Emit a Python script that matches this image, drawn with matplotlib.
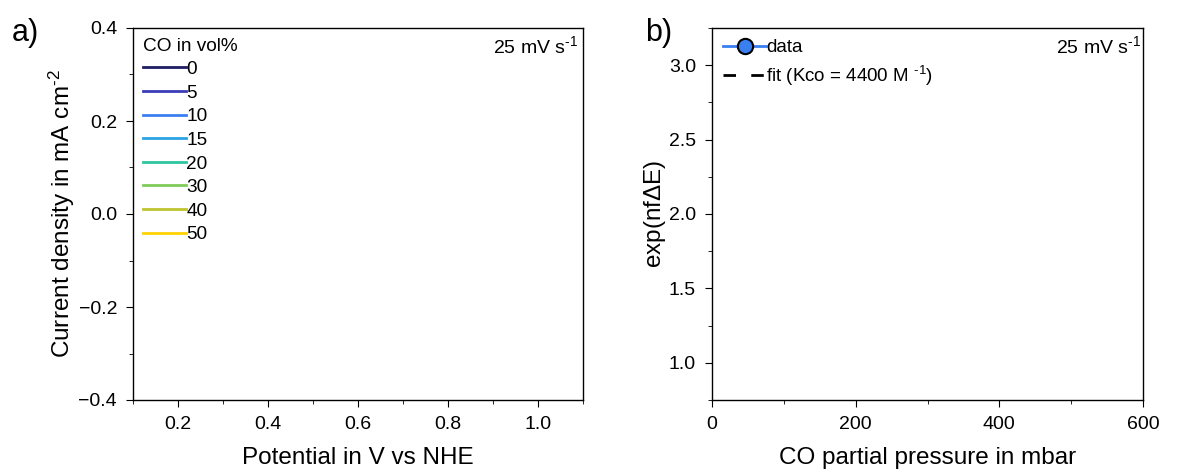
import matplotlib
matplotlib.use("Agg")
from matplotlib import pyplot as plt
from matplotlib.ticker import MultipleLocator
import numpy as np

plt.rcParams['font.family'] = ['Liberation Sans', 'DejaVu Sans']
plt.rcParams['mathtext.fontset'] = 'custom'
plt.rcParams['mathtext.rm'] = 'Liberation Sans'
plt.rcParams['mathtext.it'] = 'Liberation Sans:italic'
plt.rcParams['axes.linewidth'] = 1.0
plt.rcParams['xtick.major.size'] = 5
plt.rcParams['ytick.major.size'] = 5
plt.rcParams['xtick.minor.size'] = 3
plt.rcParams['ytick.minor.size'] = 3
plt.rcParams['xtick.major.pad'] = 6.5
plt.rcParams['ytick.major.pad'] = 6.5
plt.rcParams['xtick.minor.visible'] = True
plt.rcParams['ytick.minor.visible'] = True

# CVs at different CO contents (no traces recorded here, legend only)
co_vol = [0, 5, 10, 15, 20, 30, 40, 50]
co_colors = ['#1f1d66', '#3b3cb8', '#3a80f2', '#2aa2e2', '#2ec6a0',
             '#80cb58', '#bdc42e', '#ffd200']
potential = np.array([])
current = np.array([])

# CO partial pressure vs exp(nfdE)
p_co = np.array([])
exp_nfde = np.array([])
p_fit = np.array([])
exp_fit = np.array([])

W, H = 1181, 470
fig = plt.figure(figsize=(W/100, H/100), dpi=100)

ax1 = fig.add_axes([133/W, 70/H, 450/W, 372/H])
for v, c in zip(co_vol, co_colors):
    ax1.plot(potential, current, color=c, lw=2, label=str(v))
ax1.set_xlim(0.1, 1.1)
ax1.set_ylim(-0.4, 0.4)
ax1.xaxis.set_major_locator(MultipleLocator(0.2))
ax1.xaxis.set_minor_locator(MultipleLocator(0.1))
ax1.yaxis.set_major_locator(MultipleLocator(0.2))
ax1.yaxis.set_minor_locator(MultipleLocator(0.1))
ax1.tick_params(labelsize=14)
ax1.set_xlabel('Potential in V vs NHE', fontsize=17.5, labelpad=10)
ax1.set_ylabel('Current density in mA cm$^{\\text{-2}}$', fontsize=17.5,
               labelpad=1)
leg1 = ax1.legend(title='CO in vol%', loc='upper left', frameon=False,
                  fontsize=13.7, title_fontsize=13.7, handlelength=2.3,
                  handletextpad=0.0, labelspacing=0.33, borderaxespad=0.3,
                  borderpad=0.2)
leg1._legend_box.align = 'left'
ax1.text(0.99, 0.95, '25 mV s$^{\\text{-1}}$', transform=ax1.transAxes,
         ha='right', va='center', fontsize=14)
fig.text(12/W, 1 - 33/H, 'a)', fontsize=22, va='center', ha='left')

ax2 = fig.add_axes([712/W, 70/H, 431/W, 372/H])
ax2.plot(p_co, exp_nfde, '-o', color='#3a7ff0', mfc='#3a7ff0', mec='black',
         mew=1.5, ms=11, lw=2, label='data')
ax2.plot(p_fit, exp_fit, color='black', lw=2, dashes=(4.5, 5.5),
         label='fit (Kco = 4400 M $^{\\text{-1}}$)')
ax2.set_xlim(0, 600)
ax2.set_ylim(0.75, 3.25)
ax2.xaxis.set_major_locator(MultipleLocator(200))
ax2.xaxis.set_minor_locator(MultipleLocator(100))
ax2.yaxis.set_major_locator(MultipleLocator(0.5))
ax2.yaxis.set_minor_locator(MultipleLocator(0.25))
ax2.tick_params(labelsize=14)
ax2.set_xlabel('CO partial pressure in mbar', fontsize=17.5, labelpad=10)
ax2.set_ylabel('exp(nf$\\Delta$E)', fontsize=17.5, labelpad=1)
ax2.legend(loc='upper left', frameon=False, fontsize=13.5, handlelength=2.3,
           handletextpad=0.0, labelspacing=0.4, borderaxespad=0.3,
           borderpad=0.3)
ax2.text(0.995, 0.95, '25 mV s$^{\\text{-1}}$', transform=ax2.transAxes,
         ha='right', va='center', fontsize=14)
fig.text(645/W, 1 - 33/H, 'b)', fontsize=22, va='center', ha='left')

fig.savefig('out.png', dpi=100)
